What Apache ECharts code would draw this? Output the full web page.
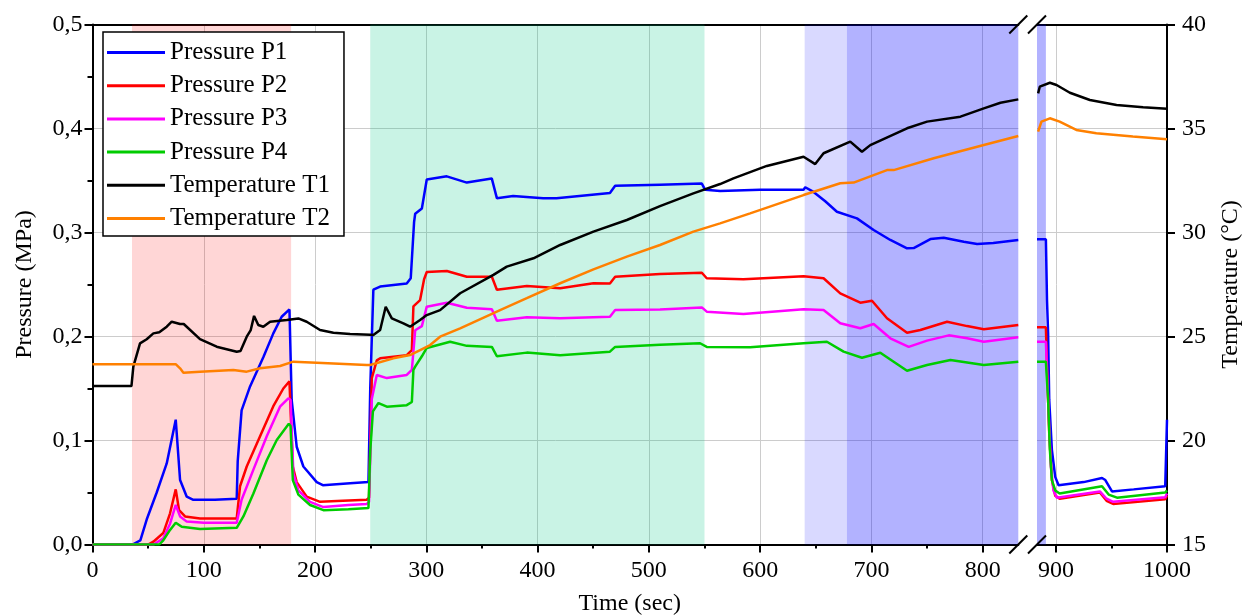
<!DOCTYPE html>
<html>
<head>
<meta charset="utf-8">
<script src="https://cdn.jsdelivr.net/npm/echarts@6/dist/echarts.min.js"></script>
<style>
  html, body { margin: 0; padding: 0; background: #fff; }
  #chart { width: 1244px; height: 615px; }
</style>
</head>
<body>
<div id="chart"></div>
<script>
// time (sec), value — pressure in MPa, temperature in °C
const pressureP1 = [[0,0],[36,0],[43,0.004],[48.7,0.024],[57.7,0.05],[66.7,0.078],[74.8,0.12],[78.7,0.062],[84.7,0.046],[90.6,0.043],[110,0.043],[129.6,0.044],[130.5,0.08],[134,0.129],[141.6,0.152],[153.5,0.18],[162.5,0.203],[170,0.219],[177,0.226],[179,0.139],[183.5,0.094],[189.5,0.075],[201.5,0.06],[207,0.057],[231.5,0.059],[248,0.06],[249.6,0.15],[252.4,0.245],[258.5,0.248],[282.4,0.251],[286,0.256],[289,0.31],[290,0.318],[296,0.323],[300.4,0.351],[318.4,0.354],[336.4,0.348],[358.8,0.352],[363.4,0.333],[378,0.335],[405,0.333],[417,0.333],[465,0.338],[469.7,0.345],[510,0.346],[547.6,0.347],[550.6,0.341],[564,0.34],[600,0.341],[639,0.341],[640.5,0.3435],[648,0.339],[658.5,0.33],[669,0.32],[687,0.3136],[702,0.3024],[717,0.2928],[732,0.2848],[738,0.285],[753,0.2937],[765,0.295],[783,0.2912],[795,0.289],[809.5,0.29],[832,0.2928],
  [883,0.2935],[891,0.2935],[892,0.235],[893,0.203],[894,0.139],[896.4,0.091],[899.4,0.065],[902.4,0.057],[925,0.06],[941.5,0.064],[944.5,0.062],[950.5,0.051],[970,0.053],[998.4,0.056],[999.5,0.056],[1000,0.12]];
const pressureP2 = [[0,0],[50,0],[54.7,0.0027],[63.6,0.011],[69.7,0.03],[74.8,0.053],[77.8,0.033],[83.2,0.027],[96.6,0.025],[129.6,0.025],[132.6,0.056],[138.6,0.075],[150.6,0.104],[162.5,0.133],[171.5,0.15],[177,0.157],[180,0.075],[183.5,0.06],[192.5,0.046],[204.5,0.041],[225,0.042],[246.5,0.043],[248.5,0.045],[251,0.16],[255.5,0.177],[258.5,0.179],[282.4,0.182],[287,0.187],[288.4,0.229],[294.4,0.235],[298,0.255],[300.4,0.262],[318.4,0.263],[336.4,0.2575],[358.9,0.2575],[363.4,0.245],[390.3,0.2486],[420.3,0.2463],[450.2,0.2512],[465,0.251],[469.7,0.2575],[510,0.26],[547.6,0.2613],[552,0.256],[585,0.255],[639,0.258],[657,0.256],[672,0.2415],[690,0.2325],[700.5,0.2344],[714,0.2175],[732,0.2037],[744,0.2063],[768,0.2142],[786,0.21],[801,0.2069],[832,0.211],
  [883,0.2088],[891,0.2088],[892,0.171],[894,0.107],[896.4,0.062],[899.4,0.047],[903.4,0.044],[939.6,0.05],[945.6,0.042],[951.5,0.039],[998.4,0.0435],[1000,0.047]];
const pressureP3 = [[0,0],[55,0],[63.6,0.006],[69.7,0.02],[74.8,0.038],[78.7,0.027],[84.7,0.022],[100,0.021],[129.6,0.021],[134,0.043],[144.6,0.072],[156.6,0.104],[168.5,0.1325],[176,0.1406],[178,0.139],[180.5,0.0685],[185,0.052],[195.5,0.041],[207.5,0.036],[230,0.038],[246.5,0.039],[248.5,0.041],[251,0.14],[255.5,0.163],[264.5,0.16],[282.4,0.163],[287,0.168],[290,0.206],[296,0.21],[300.4,0.2287],[318.4,0.2325],[336.4,0.2277],[358.9,0.2261],[363.4,0.2152],[390.3,0.2184],[420.3,0.2175],[465,0.219],[469.7,0.2255],[510,0.226],[547.6,0.228],[552,0.2239],[585,0.2216],[639,0.2261],[657,0.2255],[672,0.2127],[690,0.2079],[702,0.212],[717,0.1983],[733.5,0.19],[750,0.196],[769.5,0.2011],[786,0.1983],[801,0.195],[832,0.1992],
  [883,0.195],[891,0.195],[893,0.139],[895.5,0.075],[897.8,0.052],[900.9,0.045],[939.6,0.051],[945.6,0.044],[951.5,0.041],[998.4,0.0455],[1000,0.049]];
const pressureP4 = [[0,0],[60,0],[63.6,0.004],[69.7,0.014],[74.8,0.021],[80.2,0.017],[96.6,0.015],[129.6,0.016],[135.6,0.027],[144.6,0.049],[156.6,0.081],[165.6,0.1005],[176.4,0.116],[178,0.114],[180,0.062],[185,0.048],[195.5,0.038],[207.5,0.033],[230,0.034],[248,0.035],[249.6,0.09],[252,0.128],[257,0.136],[264.5,0.1325],[282.4,0.134],[287,0.137],[288.4,0.168],[290,0.171],[296,0.181],[300.4,0.189],[321.4,0.195],[336.4,0.191],[358.9,0.19],[363.4,0.181],[390.3,0.1845],[420.3,0.182],[465,0.1854],[469.7,0.19],[510,0.192],[546,0.1935],[552,0.19],[591,0.1896],[639,0.1935],[660,0.195],[675,0.1854],[691.5,0.1796],[708,0.1844],[720,0.1758],[732,0.1671],[750,0.1726],[771,0.1774],[801,0.1726],[832,0.1758],
  [883,0.1758],[891,0.1758],[893,0.139],[894.6,0.091],[896.4,0.062],[899.4,0.052],[903.4,0.049],[941.5,0.056],[947.5,0.048],[955,0.045],[998.4,0.05],[1000,0.052]];
const temperatureT1 = [[0,22.62],[35,22.62],[36.7,23.55],[42.7,24.67],[48.7,24.87],[54.7,25.15],[60,25.2],[66.7,25.47],[71.2,25.71],[78.7,25.6],[82,25.6],[96.6,24.87],[111.6,24.51],[129.6,24.27],[133,24.3],[138.6,24.99],[142.2,25.31],[145.2,25.99],[149,25.55],[153.5,25.47],[159.6,25.71],[174.6,25.79],[185,25.87],[192.5,25.71],[204.5,25.31],[216.5,25.18],[231.5,25.12],[249.5,25.09],[252.4,25.07],[258.5,25.31],[263.5,26.43],[269,25.87],[279.4,25.63],[285.4,25.47],[294.4,25.79],[300.4,26.03],[312.4,26.27],[330.4,27.08],[360.3,27.96],[372.3,28.36],[396.3,28.76],[420.3,29.4],[450.2,30.04],[480.2,30.6],[510,31.27],[540,31.88],[564,32.33],[576,32.6],[606,33.2],[639,33.64],[649.5,33.29],[657,33.81],[681,34.37],[691.5,33.88],[699,34.2],[732,35.01],[750,35.33],[780,35.57],[801,35.97],[816,36.24],[832,36.4],
  [884,36.69],[885.5,37.01],[894.6,37.2],[900.6,37.09],[912.6,36.72],[930.6,36.37],[954.6,36.13],[978.5,36.02],[1000,35.95]];
const temperatureT2 = [[0,23.66],[75,23.66],[78.7,23.47],[81.7,23.26],[96.6,23.31],[126.6,23.39],[138.6,23.31],[150.6,23.47],[168.6,23.58],[180.5,23.79],[201.5,23.74],[246.5,23.63],[249.5,23.63],[270.4,23.95],[285.4,24.11],[303.4,24.59],[312.4,24.99],[330.4,25.39],[366.3,26.27],[390.3,26.84],[420.3,27.56],[450.2,28.23],[480.2,28.84],[510,29.4],[540,30.04],[564,30.44],[591,30.92],[639,31.8],[672,32.37],[684,32.4],[714,33],[720,33],[756,33.57],[801,34.21],[832,34.64],
  [884,34.85],[887,35.33],[894.6,35.49],[903.4,35.33],[918.4,34.93],[936.4,34.77],[969.3,34.61],[1000,34.48]];

// shaded test phases (start, end in sec)
const bandPink = [35.5, 178.5];
const bandMint = [249.6, 550];
const bandLavender = [640, 678];
const bandBlue = [678, 891];

// broken time axis
const breakStart = 832;
const breakEnd = 883;
const xTicksLeft = [0, 100, 200, 300, 400, 500, 600, 700, 800];
const xMinorLeft = [50, 150, 250, 350, 450, 550, 650, 750];
const xTicksRight = [900, 1000];
const xMinorRight = [950];

const chart = echarts.init(document.getElementById('chart'));
const font = 'Liberation Serif';

// grid geometry
const G = { left: 92.5, split1: 1018.3, split2: 1037, right: 1167, top: 24.5, bottom: 544.5 };

const lineDefs = [
  { name: 'Pressure P1', data: pressureP1, color: '#0000ff', temp: false },
  { name: 'Pressure P2', data: pressureP2, color: '#ff0000', temp: false },
  { name: 'Pressure P3', data: pressureP3, color: '#ff00ff', temp: false },
  { name: 'Pressure P4', data: pressureP4, color: '#00cc00', temp: false },
  { name: 'Temperature T1', data: temperatureT1, color: '#000000', temp: true },
  { name: 'Temperature T2', data: temperatureT2, color: '#ff8000', temp: true }
];

const part = (data, lo, hi) => data.filter(d => d[0] >= lo && d[0] <= hi);
const clipBand = (b, lo, hi) => [Math.max(b[0], lo), Math.min(b[1], hi)];

const series = [];
lineDefs.forEach(s => {
  const base = {
    name: s.name,
    type: 'line',
    showSymbol: false,
    symbol: 'none',
    color: s.color,
    lineStyle: { width: 2.5, color: s.color },
    animation: false
  };
  series.push({ ...base, xAxisIndex: 0, yAxisIndex: s.temp ? 1 : 0, data: part(s.data, 0, breakStart) });
  series.push({ ...base, xAxisIndex: 3, yAxisIndex: s.temp ? 3 : 2, data: part(s.data, breakEnd, 1000) });
});

const bandArea = (b, color) => [{ xAxis: b[0], itemStyle: { color } }, { xAxis: b[1] }];
const leftBands = [
  bandArea(bandPink, 'rgba(255,0,0,0.16)'),
  bandArea(bandMint, 'rgba(0,200,130,0.21)'),
  bandArea(bandLavender, 'rgba(0,0,255,0.15)'),
  bandArea(clipBand(bandBlue, 0, breakStart), 'rgba(0,0,255,0.3)')
];
const rightBands = [
  bandArea(clipBand(bandBlue, breakEnd, 1000), 'rgba(0,0,255,0.3)')
];
series.push({ name: 'bandsL', type: 'line', xAxisIndex: 0, yAxisIndex: 0, data: [], z: 5, silent: true,
  markArea: { silent: true, data: leftBands } });
series.push({ name: 'bandsR', type: 'line', xAxisIndex: 3, yAxisIndex: 2, data: [], z: 5, silent: true,
  markArea: { silent: true, data: rightBands } });

const axisLine = { show: true, onZero: false, lineStyle: { color: '#000', width: 2 } };
const tickStyle = { color: '#000', width: 2 };
const labelStyle = { color: '#000', fontFamily: font, fontSize: 24 };
const splitStyle = { show: true, lineStyle: { color: '#cccccc', width: 1 } };

const bottomAxis = (grid, min, max, ticks) => ({
  type: 'value', gridIndex: grid, position: 'bottom', min, max, interval: 100,
  axisLine,
  axisTick: { show: true, inside: false, length: 8, lineStyle: tickStyle, customValues: ticks },
  axisLabel: { ...labelStyle, margin: 14, customValues: ticks, formatter: v => String(v) },
  splitLine: splitStyle
});
const minorAxis = (grid, min, max, ticks) => ({
  type: 'value', gridIndex: grid, position: 'bottom', min, max,
  axisLine: { show: false },
  axisTick: { show: true, length: 4, lineStyle: tickStyle, customValues: ticks },
  axisLabel: { show: false },
  splitLine: { show: false }
});
const topAxis = (grid, min, max) => ({
  type: 'value', gridIndex: grid, position: 'top', min, max,
  axisLine, axisTick: { show: false }, axisLabel: { show: false }, splitLine: { show: false }
});

// break marks "//" on the top and bottom axis lines
const breakMarks = [];
[G.split1, G.split2].forEach(cx => {
  [G.top, G.bottom].forEach(cy => {
    breakMarks.push({
      type: 'line', silent: true, z: 100,
      shape: { x1: cx - 9, y1: cy + 9, x2: cx + 9, y2: cy - 9 },
      style: { stroke: '#000', lineWidth: 2 }
    });
  });
});

const option = {
  animation: false,
  backgroundColor: '#fff',
  textStyle: { fontFamily: font },
  grid: [
    { left: G.left, right: 1244 - G.split1, top: G.top, bottom: 615 - G.bottom },
    { left: G.split2, right: 1244 - G.right, top: G.top, bottom: 615 - G.bottom }
  ],
  legend: {
    data: lineDefs.map(s => s.name),
    orient: 'vertical',
    left: 103,
    top: 32,
    padding: [8, 14, 5, 4],
    itemGap: 8.2,
    itemWidth: 58,
    itemHeight: 3,
    itemTextGap: 6,
    icon: 'rect',
    backgroundColor: '#fff',
    borderColor: '#000',
    borderWidth: 1.5,
    borderRadius: 0,
    textStyle: { color: '#000', fontFamily: font, fontSize: 25, lineHeight: 24 }
  },
  xAxis: [
    bottomAxis(0, 0, breakStart, xTicksLeft),
    minorAxis(0, 0, breakStart, xMinorLeft),
    topAxis(0, 0, breakStart),
    bottomAxis(1, breakEnd, 1000, xTicksRight),
    minorAxis(1, breakEnd, 1000, xMinorRight),
    topAxis(1, breakEnd, 1000)
  ],
  yAxis: [
    {
      type: 'value', gridIndex: 0, position: 'left', min: 0, max: 0.5, interval: 0.1,
      name: 'Pressure (MPa)', nameLocation: 'middle', nameRotate: 90, nameGap: 56,
      nameTextStyle: { color: '#000', fontFamily: font, fontSize: 24 },
      axisLine,
      axisTick: { show: true, length: 8, lineStyle: tickStyle },
      minorTick: { show: true, splitNumber: 2, length: 5, lineStyle: tickStyle },
      axisLabel: { ...labelStyle, margin: 10, formatter: v => v.toFixed(1).replace('.', ',') },
      splitLine: splitStyle
    },
    { type: 'value', gridIndex: 0, position: 'right', min: 15, max: 40, interval: 5, show: false },
    { type: 'value', gridIndex: 1, position: 'left', min: 0, max: 0.5, interval: 0.1, show: false },
    {
      type: 'value', gridIndex: 1, position: 'right', min: 15, max: 40, interval: 5,
      name: 'Temperature (°C)', nameLocation: 'middle', nameRotate: 90, nameGap: 52,
      nameTextStyle: { color: '#000', fontFamily: font, fontSize: 24 },
      axisLine,
      axisTick: { show: true, length: 8, lineStyle: tickStyle },
      axisLabel: { ...labelStyle, margin: 15 },
      splitLine: splitStyle
    }
  ],
  graphic: [
    {
      type: 'text', silent: true,
      x: (G.left + G.right) / 2, y: 592,
      style: { text: 'Time (sec)', fill: '#000', font: '24px "Liberation Serif"', textAlign: 'center', textVerticalAlign: 'top' }
    },
    ...breakMarks
  ],
  series
};

chart.setOption(option);
</script>
</body>
</html>
